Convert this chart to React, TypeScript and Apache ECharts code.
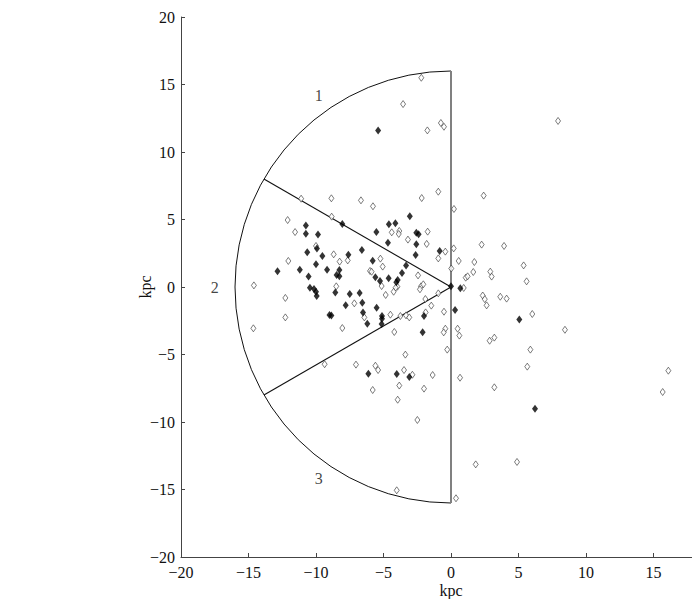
import React, { useEffect, useRef } from "react";
import * as echarts from "echarts";

// Stars shown as filled diamonds (x, y in kpc)
const filledStars: [number, number][] = [
  [-5.4, 11.6], [-10.75, 4.55], [-10.75, 3.95], [-9.85, 3.88], [-9.93, 2.86],
  [-10.65, 2.57], [-9.53, 2.3], [-10.0, 1.68], [-12.85, 1.16], [-11.2, 1.28],
  [-9.18, 1.28], [-10.55, 0.77], [-10.45, -0.05], [-10.15, -0.15], [-10.0, -0.35],
  [-9.95, -0.67], [-9.0, -2.07], [-8.05, 4.67], [-3.05, 5.24], [-4.6, 4.64],
  [-4.12, 4.72], [-5.53, 4.07], [-2.57, 4.02], [-2.4, 3.9], [-4.67, 3.28],
  [-2.57, 3.16], [-6.6, 2.74], [-0.84, 2.67], [-7.6, 2.39], [-2.62, 2.37],
  [-5.8, 1.95], [-3.33, 1.6], [-8.27, 1.26], [-8.47, 0.89], [-8.27, 0.79],
  [-3.63, 1.04], [-5.6, 0.72], [-5.26, 0.44], [-4.62, 0.64], [-3.95, 0.52],
  [-4.05, 0.35], [0.0, 0.05], [-8.57, -0.4], [-7.5, -0.52], [-6.77, -0.44],
  [-7.8, -1.36], [-6.57, -1.16], [-8.86, -2.12], [-6.52, -1.88], [-5.51, -1.53],
  [-5.11, -2.15], [-5.11, -2.35], [-2.0, -2.15], [0.3, -1.7], [-6.2, -2.72],
  [-5.14, -2.74], [-2.1, -3.36], [-6.12, -6.42], [-4.02, -6.44], [-3.09, -6.67],
  [0.69, -0.1], [5.06, -2.4], [6.22, -9.01],
];

// Stars shown as open diamonds (x, y in kpc)
const openStars: [number, number][] = [
  [-2.2, 15.5], [-3.55, 13.55], [-1.75, 11.6], [-0.75, 12.15], [-0.52, 11.87],
  [-11.1, 6.54], [-12.1, 4.96], [-11.55, 4.07], [-10.0, 3.04], [-12.05, 1.93],
  [-14.6, 0.12], [-12.27, -0.81], [-12.27, -2.25], [-14.64, -3.06], [-9.36, -5.72],
  [-8.86, 6.57], [-6.67, 6.42], [-5.78, 5.98], [-2.17, 6.59], [-0.94, 7.06],
  [0.22, 5.78], [-8.84, 5.21], [-4.39, 4.05], [-3.83, 4.15], [-3.87, 3.93],
  [-1.73, 4.1], [-3.19, 3.51], [-1.8, 3.19], [0.2, 2.86], [-0.42, 2.62],
  [-8.69, 2.42], [-0.94, 2.12], [-8.25, 1.88], [-7.65, 1.97], [-5.23, 2.1],
  [-5.06, 1.51], [-6.0, 1.19], [-5.88, 1.13], [0.02, 1.37], [0.57, 1.93],
  [-2.44, 0.86], [-5.14, 0.07], [-3.97, 0.02], [-2.22, 0.05], [-2.05, 0.2],
  [-4.1, -0.05], [-4.25, -0.35], [-4.84, -0.59], [-2.3, -0.17], [-0.94, -0.47],
  [-7.16, -1.21], [-1.9, -0.89], [-1.46, -1.38], [-6.42, -2.25], [-4.49, -2.05],
  [-3.75, -2.15], [-3.33, -2.1], [-3.09, -2.25], [-1.88, -1.88], [-0.52, -1.83],
  [-8.05, -3.04], [-4.2, -3.33], [-0.42, -3.09], [-0.54, -3.36], [0.49, -3.09],
  [0.62, -3.6], [-0.28, -4.64], [-3.38, -5.01], [-7.04, -5.75], [-5.6, -5.83],
  [-5.4, -6.15], [-3.48, -6.15], [-2.86, -6.5], [-1.36, -6.52], [-3.83, -7.3],
  [-5.8, -7.63], [-2.0, -7.53], [-3.95, -8.35], [-2.49, -9.85], [-4.02, -15.06],
  [0.37, -15.65], [2.42, 6.77], [2.27, 3.14], [3.93, 3.04], [1.73, 1.85],
  [1.65, 1.11], [2.91, 1.14], [3.01, 0.77], [1.09, 0.69], [1.23, 0.79],
  [5.38, 1.6], [5.6, 0.42], [0.94, -0.07], [2.35, -0.63], [2.5, -0.9],
  [3.65, -0.72], [4.12, -0.86], [2.64, -1.36], [6.02, -2.0], [8.44, -3.17],
  [2.86, -3.98], [3.21, -3.75], [5.88, -4.64], [5.65, -5.9], [0.67, -6.72],
  [3.21, -7.43], [1.83, -13.14], [4.89, -12.96], [7.93, 12.3], [16.1, -6.2],
  [15.68, -7.78], [-8.5, 0.05],
];

// Sector geometry (kpc, degrees)
const sectorRadius = 16;
const sectorAngles = [90, 150, 210, 270];
const sectorNames = ["1", "2", "3"];
const sectorNamePos: [number, number][] = [[-9.8, 14.2], [-17.5, 0], [-9.8, -14.2]];

const axisMin = -20;
const axisMax = 20;
const axisStep = 5;

const FONT = "'Liberation Serif', 'Times New Roman', serif";

export default function App() {
  const ref = useRef<HTMLDivElement>(null);

  useEffect(() => {
    const chart = echarts.init(ref.current!, null, { renderer: "svg" });
    const minus = (v: number) => String(v).replace("-", "\u2212");
    const axisCommon = {
      type: "value",
      min: axisMin,
      max: axisMax,
      interval: axisStep,
      name: "kpc",
      nameLocation: "middle",
      nameMoveOverlap: false,
      nameTextStyle: { fontFamily: FONT, fontSize: 16, lineHeight: 14, color: "#111" },
      axisLine: { onZero: false, lineStyle: { color: "#444", width: 1 } },
      axisTick: { inside: true, length: 4, lineStyle: { color: "#444" } },
      axisLabel: { formatter: minus, fontFamily: FONT, fontSize: 16, lineHeight: 14, color: "#111" },
      splitLine: { show: false },
    };
    const rad = (a: number) => (a * Math.PI) / 180;

    chart.setOption({
      animation: false,
      backgroundColor: "#ffffff",
      grid: { left: 181, top: 17, width: 540, height: 540, containLabel: false, outerBoundsMode: "none" },
      xAxis: {
        ...axisCommon,
        nameGap: 26,
        axisLabel: { ...axisCommon.axisLabel, margin: 8, showMaxLabel: false },
      },
      yAxis: { ...axisCommon, nameGap: 29, axisLabel: { ...axisCommon.axisLabel, margin: 6 } },
      series: [
        {
          type: "custom",
          coordinateSystem: "cartesian2d",
          silent: true,
          data: [[0, 0]],
          z: 1,
          renderItem: (_params: any, api: any) => {
            const c = api.coord([0, 0]);
            const r = api.size([sectorRadius, 0])[0];
            const pts = sectorAngles.map((a) =>
              api.coord([sectorRadius * Math.cos(rad(a)), sectorRadius * Math.sin(rad(a))])
            );
            return {
              type: "group",
              children: [
                {
                  type: "arc",
                  shape: { cx: c[0], cy: c[1], r, startAngle: Math.PI / 2, endAngle: (3 * Math.PI) / 2, clockwise: true },
                  style: { stroke: "#111", lineWidth: 1, fill: null },
                },
                {
                  type: "line",
                  shape: { x1: c[0], y1: c[1], x2: pts[1][0], y2: pts[1][1] },
                  style: { stroke: "#111", lineWidth: 1.1 },
                },
                {
                  type: "line",
                  shape: { x1: c[0], y1: c[1], x2: pts[2][0], y2: pts[2][1] },
                  style: { stroke: "#111", lineWidth: 1.1 },
                },
                {
                  type: "line",
                  shape: { x1: pts[0][0], y1: pts[0][1], x2: pts[3][0], y2: pts[3][1] },
                  style: { stroke: "#808080", lineWidth: 2 },
                },
              ],
            };
          },
        },
        {
          type: "scatter",
          data: openStars,
          symbol: "diamond",
          symbolSize: [5, 7],
          z: 2,
          itemStyle: { color: "#ffffff", borderColor: "#333", borderWidth: 0.8 },
        },
        {
          type: "scatter",
          data: filledStars,
          symbol: "diamond",
          symbolSize: [6, 8],
          z: 3,
          itemStyle: { color: "#000000" },
        },
        {
          type: "scatter",
          data: sectorNames.map((n, i) => ({ name: n, value: sectorNamePos[i] })),
          symbolSize: 0,
          z: 4,
          label: {
            show: true,
            position: "inside",
            formatter: "{b}",
            fontFamily: FONT,
            fontSize: 16,
            color: "#111",
          },
        },
      ],
    });
    return () => chart.dispose();
  }, []);

  return (
    <div
      ref={ref}
      style={{ position: "fixed", left: 0, top: 0, width: 692, height: 599, background: "#fff" }}
    />
  );
}
